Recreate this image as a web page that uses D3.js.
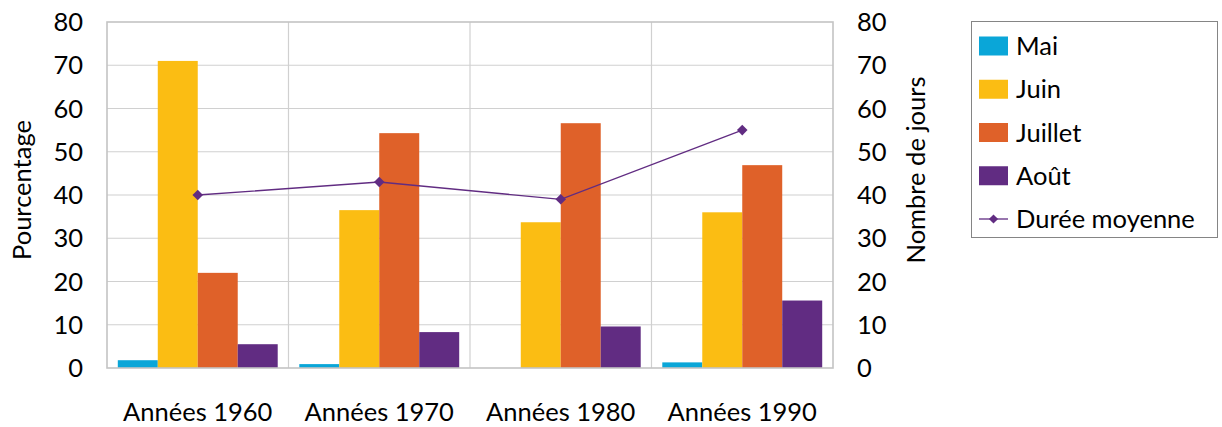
<!DOCTYPE html>
<html>
<head>
<meta charset="utf-8">
<script src="https://cdn.jsdelivr.net/npm/d3@7"></script>
<style>
  html, body { margin: 0; padding: 0; background: #fff; }
  svg { display: block; }
  text { font-family: Lato, "Open Sans", sans-serif; fill: #000; }
</style>
</head>
<body>
<svg id="chart" width="1222" height="427"></svg>
<script>
const categories = ["Années 1960", "Années 1970", "Années 1980", "Années 1990"];
const seriesNames = ["Mai", "Juin", "Juillet", "Août"];
const mai = [1.8, 0.9, 0, 1.3];
const juin = [71, 36.5, 33.7, 36];
const juillet = [22, 54.3, 56.6, 46.9];
const aout = [5.5, 8.3, 9.6, 15.6];
const dureeName = "Durée moyenne";
const duree = [40, 43, 39, 55];
const leftTicks = [0, 10, 20, 30, 40, 50, 60, 70, 80];
const rightTicks = [0, 10, 20, 30, 40, 50, 60, 70, 80];
const leftTitle = "Pourcentage";
const rightTitle = "Nombre de jours";

const colors = ["#0AA6D8", "#FBBD13", "#DF6129", "#612C82"];
const lineColor = "#612C82";
const seriesValues = [mai, juin, juillet, aout];

const svg = d3.select("#chart");
const plot = { left: 107, right: 833, top: 22, bottom: 368 };
const fs = 25.5;

const x0 = d3.scaleBand().domain(categories).range([plot.left, plot.right]).padding(0);
const x1 = d3.scaleBand().domain(seriesNames).range([0, x0.bandwidth()]).paddingInner(0).paddingOuter(0.27);
const yL = d3.scaleLinear().domain([0, 80]).range([plot.bottom, plot.top]);
const yR = d3.scaleLinear().domain([0, 80]).range([plot.bottom, plot.top]);

// gridlines
const grid = svg.append("g");
grid.selectAll("line.h").data(leftTicks.slice(1, -1)).join("line")
  .attr("x1", plot.left).attr("x2", plot.right)
  .attr("y1", d => yL(d)).attr("y2", d => yL(d))
  .attr("stroke", "#d0d0d0").attr("stroke-width", 1.2);
grid.selectAll("line.v").data(categories.slice(1)).join("line")
  .attr("x1", d => x0(d)).attr("x2", d => x0(d))
  .attr("y1", plot.top).attr("y2", plot.bottom)
  .attr("stroke", "#d0d0d0").attr("stroke-width", 1.2);

// bars
categories.forEach((c, ci) => {
  seriesNames.forEach((s, si) => {
    const v = seriesValues[si][ci];
    svg.append("rect")
      .attr("x", x0(c) + x1(s))
      .attr("y", yL(v))
      .attr("width", x1.bandwidth())
      .attr("height", plot.bottom - yL(v))
      .attr("fill", colors[si]);
  });
});

// plot border
svg.append("rect")
  .attr("x", plot.left).attr("y", plot.top)
  .attr("width", plot.right - plot.left).attr("height", plot.bottom - plot.top)
  .attr("fill", "none").attr("stroke", "#c4c4c4").attr("stroke-width", 1.6);

// line
const lineGen = d3.line()
  .x((d, i) => x0(categories[i]) + x0.bandwidth() / 2)
  .y(d => yR(d));
svg.append("path").datum(duree).attr("d", lineGen)
  .attr("fill", "none").attr("stroke", lineColor).attr("stroke-width", 1.3);
svg.selectAll("path.mk").data(duree).join("path")
  .attr("transform", (d, i) => `translate(${x0(categories[i]) + x0.bandwidth() / 2},${yR(d)}) rotate(45)`)
  .attr("d", d3.symbol().type(d3.symbolSquare).size(56)())
  .attr("fill", lineColor);

// left axis labels
svg.selectAll("text.yl").data(leftTicks).join("text")
  .attr("x", 83).attr("y", d => yL(d)).attr("dy", "0.36em")
  .attr("text-anchor", "end").attr("font-size", fs).text(d => d);
// right axis labels
svg.selectAll("text.yr").data(rightTicks).join("text")
  .attr("x", 857).attr("y", d => yR(d)).attr("dy", "0.36em")
  .attr("text-anchor", "start").attr("font-size", fs).text(d => d);
// x labels
svg.selectAll("text.xl").data(categories).join("text")
  .attr("x", d => x0(d) + x0.bandwidth() / 2).attr("y", 421)
  .attr("text-anchor", "middle").attr("font-size", fs).text(d => d);

// axis titles
svg.append("text").attr("transform", "translate(31,190) rotate(-90)")
  .attr("text-anchor", "middle").attr("font-size", fs).text(leftTitle);
svg.append("text").attr("transform", "translate(925,170) rotate(-90)")
  .attr("text-anchor", "middle").attr("font-size", fs).text(rightTitle);

// legend
const lg = svg.append("g");
lg.append("rect").attr("x", 971.5).attr("y", 21.5).attr("width", 246).attr("height", 216)
  .attr("fill", "#fff").attr("stroke", "#858585").attr("stroke-width", 1);
const rowY = d3.scalePoint().domain([...seriesNames, dureeName]).range([46, 219]);
seriesNames.forEach((s, i) => {
  lg.append("rect").attr("x", 979).attr("y", rowY(s) - 9.5).attr("width", 29).attr("height", 19)
    .attr("fill", colors[i]);
  lg.append("text").attr("x", 1016).attr("y", rowY(s)).attr("dy", "0.36em")
    .attr("font-size", fs).text(s);
});
lg.append("line").attr("x1", 979).attr("x2", 1008).attr("y1", rowY(dureeName)).attr("y2", rowY(dureeName))
  .attr("stroke", lineColor).attr("stroke-width", 1.3);
lg.append("path").attr("transform", `translate(993.5,${rowY(dureeName)}) rotate(45)`)
  .attr("d", d3.symbol().type(d3.symbolSquare).size(42)()).attr("fill", lineColor);
lg.append("text").attr("x", 1016).attr("y", rowY(dureeName)).attr("dy", "0.36em")
  .attr("font-size", fs).text(dureeName);
</script>
</body>
</html>
